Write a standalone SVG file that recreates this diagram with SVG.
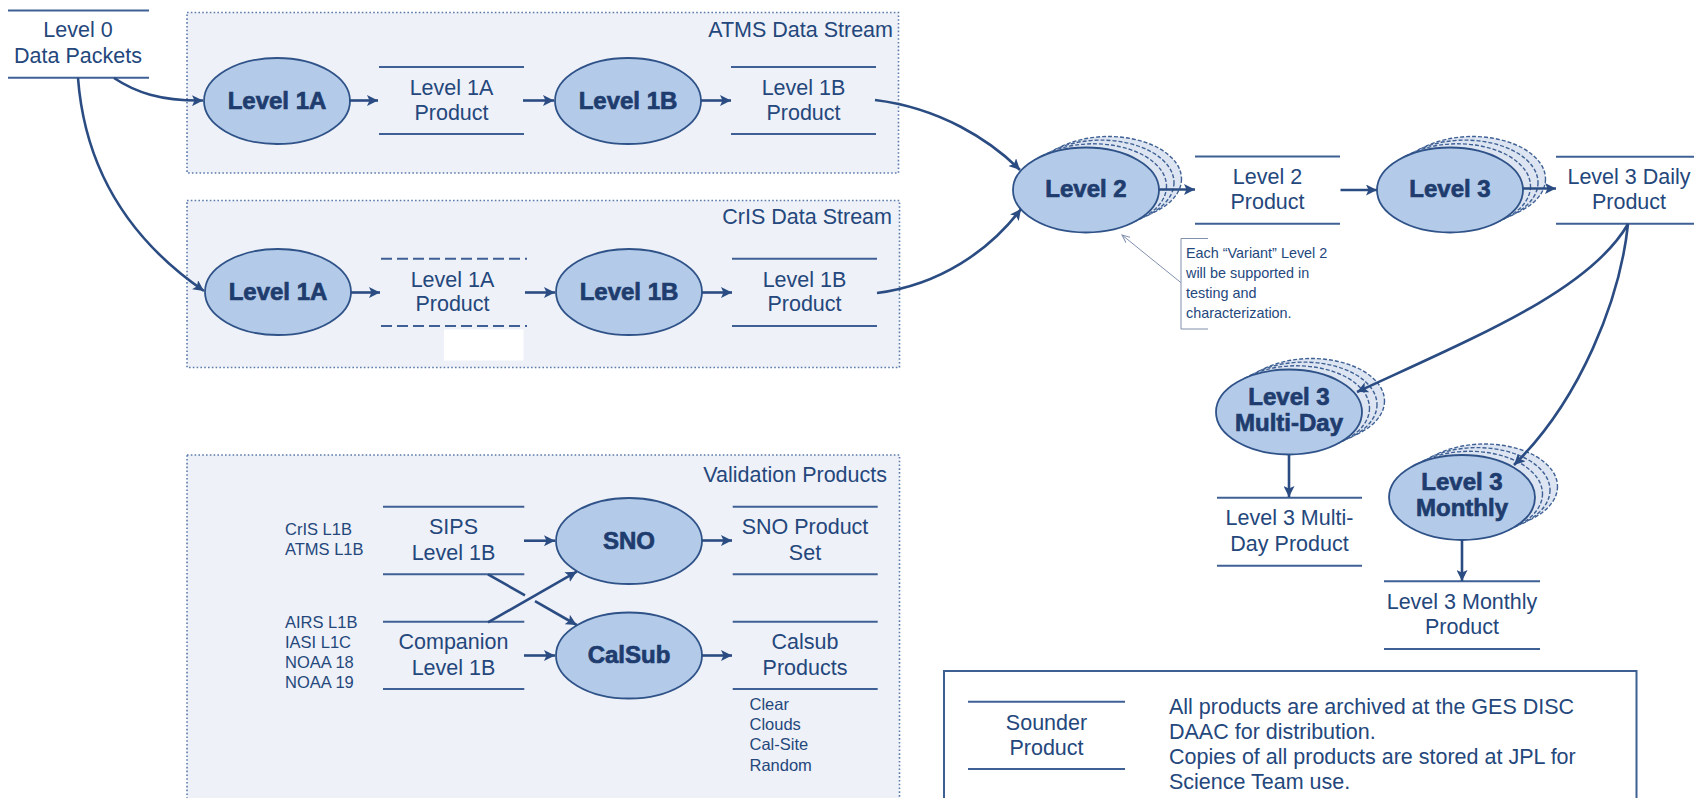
<svg xmlns="http://www.w3.org/2000/svg" width="1694" height="798" viewBox="0 0 1694 798">
  <style>
    .txt { font-family: "Liberation Sans", Arial, sans-serif; font-size: 21.5px; fill: #24477c; text-anchor: middle; }
    .lft { text-anchor: start; }
    .end { text-anchor: end; }
    .sm { font-size: 16.5px; }
    .note { font-size: 14.4px; text-anchor: start; }
    .bold { font-family: "Liberation Sans", Arial, sans-serif; font-size: 24px; font-weight: bold; fill: #1f3c6e; stroke: #1f3c6e; stroke-width: 0.7; text-anchor: middle; }
    .stream { fill: #eef1f7; stroke: #5c7bab; stroke-width: 1.6; stroke-dasharray: 1.6 2.2; }
    .pline { stroke: #3f6094; stroke-width: 2; fill: none; }
    .dash { stroke-dasharray: 11 5; }
    .proc { fill: #b3cbe9; stroke: #2f5288; stroke-width: 1.8; }
    .ghost { fill: #dce5f1; stroke: #3f6094; stroke-width: 1.4; stroke-dasharray: 4 2; }
    .arrow { stroke: #2a4c82; stroke-width: 2.6; fill: none; marker-end: url(#head); }
    .leader { stroke: #8090ad; stroke-width: 1; fill: none; marker-end: url(#thin); }
  </style>
  <defs>
    <marker id="head" markerUnits="userSpaceOnUse" markerWidth="12" markerHeight="11" refX="11" refY="5.5" orient="auto">
      <path d="M0,0 L11,5.5 L0,11 L2.5,5.5 z" fill="#2a4c82"/>
    </marker>
    <marker id="thin" markerUnits="userSpaceOnUse" markerWidth="9" markerHeight="8" refX="8" refY="4" orient="auto">
      <path d="M0,0.5 L8,4 L0,7.5" fill="none" stroke="#8090ad" stroke-width="1"/>
    </marker>
    <!-- a process with stacked variants behind it -->
    <g id="stack">
      <ellipse class="ghost" cx="22.5" cy="-11" rx="73" ry="42.5"/>
      <ellipse class="ghost" cx="15" cy="-7.4" rx="73" ry="42.5"/>
      <ellipse class="ghost" cx="7.5" cy="-3.7" rx="73" ry="42.5"/>
      <ellipse class="proc" cx="0" cy="0" rx="73" ry="42.5"/>
    </g>
  </defs>

  <!-- stream panels -->
  <g id="atms-stream">
    <rect class="stream" x="187" y="12.5" width="711.5" height="160.5"/>
    <text class="txt end" x="893" y="37">ATMS Data Stream</text>
  </g>
  <g id="cris-stream">
    <rect class="stream" x="187" y="200.5" width="712.5" height="167"/>
    <text class="txt end" x="892" y="224">CrIS Data Stream</text>
    <rect x="444" y="329.5" width="79.5" height="31" fill="#ffffff"/>
  </g>
  <g id="validation-products">
    <rect class="stream" x="187" y="455" width="712.5" height="360"/>
    <text class="txt end" x="887" y="481.5">Validation Products</text>
  </g>

  <!-- Level 0 -->
  <g id="level0-packets">
    <line class="pline" x1="8" y1="10.5" x2="149" y2="10.5"/>
    <line class="pline" x1="8" y1="77.7" x2="149" y2="77.7"/>
    <text class="txt" x="78" y="37">Level 0</text>
    <text class="txt" x="78" y="63.3">Data Packets</text>
  </g>

  <!-- ATMS row -->
  <g id="atms-l1a">
    <ellipse class="proc" cx="277" cy="101" rx="73" ry="43"/>
    <text class="bold" x="277" y="108.5">Level 1A</text>
  </g>
  <g id="atms-l1a-product">
    <line class="pline" x1="379" y1="67" x2="524" y2="67"/>
    <line class="pline" x1="379" y1="134" x2="524" y2="134"/>
    <text class="txt" x="451.5" y="95">Level 1A</text>
    <text class="txt" x="451.5" y="119.5">Product</text>
  </g>
  <g id="atms-l1b">
    <ellipse class="proc" cx="628" cy="101" rx="73" ry="43"/>
    <text class="bold" x="628" y="108.5">Level 1B</text>
  </g>
  <g id="atms-l1b-product">
    <line class="pline" x1="731" y1="67" x2="876" y2="67"/>
    <line class="pline" x1="731" y1="134" x2="876" y2="134"/>
    <text class="txt" x="803.5" y="95">Level 1B</text>
    <text class="txt" x="803.5" y="119.5">Product</text>
  </g>

  <!-- CrIS row -->
  <g id="cris-l1a">
    <ellipse class="proc" cx="278" cy="292" rx="73" ry="43"/>
    <text class="bold" x="278" y="299.5">Level 1A</text>
  </g>
  <g id="cris-l1a-product">
    <line class="pline dash" x1="381" y1="258.7" x2="527" y2="258.7"/>
    <line class="pline dash" x1="381" y1="326" x2="527" y2="326"/>
    <text class="txt" x="452.5" y="286.5">Level 1A</text>
    <text class="txt" x="452.5" y="311">Product</text>
  </g>
  <g id="cris-l1b">
    <ellipse class="proc" cx="629" cy="292" rx="73" ry="43"/>
    <text class="bold" x="629" y="299.5">Level 1B</text>
  </g>
  <g id="cris-l1b-product">
    <line class="pline" x1="732" y1="258.7" x2="877" y2="258.7"/>
    <line class="pline" x1="732" y1="326" x2="877" y2="326"/>
    <text class="txt" x="804.5" y="286.5">Level 1B</text>
    <text class="txt" x="804.5" y="311">Product</text>
  </g>

  <!-- Level 2 / Level 3 chain -->
  <g id="level2">
    <use href="#stack" x="1086" y="190"/>
    <text class="bold" x="1086" y="197">Level 2</text>
  </g>
  <g id="level2-product">
    <line class="pline" x1="1195" y1="156.5" x2="1340" y2="156.5"/>
    <line class="pline" x1="1195" y1="223.7" x2="1340" y2="223.7"/>
    <text class="txt" x="1267.5" y="183.5">Level 2</text>
    <text class="txt" x="1267.5" y="209">Product</text>
  </g>
  <g id="level3">
    <use href="#stack" x="1450" y="190"/>
    <text class="bold" x="1450" y="197">Level 3</text>
  </g>
  <g id="level3-daily-product">
    <line class="pline" x1="1556" y1="156.7" x2="1700" y2="156.7"/>
    <line class="pline" x1="1556" y1="223.7" x2="1700" y2="223.7"/>
    <text class="txt" x="1629" y="183.5">Level 3 Daily</text>
    <text class="txt" x="1629" y="209">Product</text>
  </g>
  <g id="level3-multiday">
    <use href="#stack" x="1289" y="412"/>
    <text class="bold" x="1289" y="405">Level 3</text>
    <text class="bold" x="1289" y="430.5">Multi-Day</text>
  </g>
  <g id="level3-multiday-product">
    <line class="pline" x1="1217" y1="497.7" x2="1362" y2="497.7"/>
    <line class="pline" x1="1217" y1="565.7" x2="1362" y2="565.7"/>
    <text class="txt" x="1289.5" y="525.3">Level 3 Multi-</text>
    <text class="txt" x="1289.5" y="550.5">Day Product</text>
  </g>
  <g id="level3-monthly">
    <use href="#stack" x="1462" y="497.5"/>
    <text class="bold" x="1462" y="490">Level 3</text>
    <text class="bold" x="1462" y="516">Monthly</text>
  </g>
  <g id="level3-monthly-product">
    <line class="pline" x1="1384" y1="581.3" x2="1540" y2="581.3"/>
    <line class="pline" x1="1384" y1="649" x2="1540" y2="649"/>
    <text class="txt" x="1462" y="608.5">Level 3 Monthly</text>
    <text class="txt" x="1462" y="634.3">Product</text>
  </g>

  <!-- variant note -->
  <g id="variant-note">
    <path d="M1208,238.5 L1181,238.5 L1181,329 L1208,329" fill="none" stroke="#8090ad" stroke-width="1"/>
    <text class="txt note" x="1186" y="258.3">Each “Variant” Level 2</text>
    <text class="txt note" x="1186" y="278.3">will be supported in</text>
    <text class="txt note" x="1186" y="298.3">testing and</text>
    <text class="txt note" x="1186" y="318.3">characterization.</text>
  </g>

  <!-- validation content -->
  <g id="sips-sources">
    <text class="txt sm lft" x="285" y="535">CrIS L1B</text>
    <text class="txt sm lft" x="285" y="555">ATMS L1B</text>
  </g>
  <g id="companion-sources">
    <text class="txt sm lft" x="285" y="628.3">AIRS L1B</text>
    <text class="txt sm lft" x="285" y="648.3">IASI L1C</text>
    <text class="txt sm lft" x="285" y="668.3">NOAA 18</text>
    <text class="txt sm lft" x="285" y="688.3">NOAA 19</text>
  </g>
  <g id="sips-l1b">
    <line class="pline" x1="383" y1="506.7" x2="524.3" y2="506.7"/>
    <line class="pline" x1="383" y1="574.3" x2="524.3" y2="574.3"/>
    <text class="txt" x="453.5" y="534.3">SIPS</text>
    <text class="txt" x="453.5" y="560">Level 1B</text>
  </g>
  <g id="companion-l1b">
    <line class="pline" x1="383" y1="621.7" x2="524.3" y2="621.7"/>
    <line class="pline" x1="383" y1="689" x2="524.3" y2="689"/>
    <text class="txt" x="453.5" y="649.3">Companion</text>
    <text class="txt" x="453.5" y="675">Level 1B</text>
  </g>
  <g id="sno">
    <ellipse class="proc" cx="629" cy="541" rx="73" ry="43"/>
    <text class="bold" x="629" y="548.5">SNO</text>
  </g>
  <g id="calsub">
    <ellipse class="proc" cx="629" cy="655.5" rx="73" ry="43"/>
    <text class="bold" x="629" y="663">CalSub</text>
  </g>
  <g id="sno-product-set">
    <line class="pline" x1="732.7" y1="506.7" x2="877.7" y2="506.7"/>
    <line class="pline" x1="732.7" y1="574.3" x2="877.7" y2="574.3"/>
    <text class="txt" x="805" y="534.3">SNO Product</text>
    <text class="txt" x="805" y="560">Set</text>
  </g>
  <g id="calsub-products">
    <line class="pline" x1="732.7" y1="621.7" x2="877.7" y2="621.7"/>
    <line class="pline" x1="732.7" y1="689" x2="877.7" y2="689"/>
    <text class="txt" x="805" y="649.3">Calsub</text>
    <text class="txt" x="805" y="674.5">Products</text>
    <text class="txt sm lft" x="749.5" y="710">Clear</text>
    <text class="txt sm lft" x="749.5" y="730">Clouds</text>
    <text class="txt sm lft" x="749.5" y="750">Cal-Site</text>
    <text class="txt sm lft" x="749.5" y="770.5">Random</text>
  </g>

  <!-- legend -->
  <g id="legend">
    <rect x="944" y="671" width="692.5" height="140" fill="#ffffff" stroke="#3d5f91" stroke-width="2"/>
    <line class="pline" x1="968" y1="701.7" x2="1125" y2="701.7"/>
    <line class="pline" x1="968" y1="769" x2="1125" y2="769"/>
    <text class="txt" x="1046.5" y="730">Sounder</text>
    <text class="txt" x="1046.5" y="755.3">Product</text>
    <text class="txt lft" x="1169" y="714">All products are archived at the GES DISC</text>
    <text class="txt lft" x="1169" y="739.3">DAAC for distribution.</text>
    <text class="txt lft" x="1169" y="763.5">Copies of all products are stored at JPL for</text>
    <text class="txt lft" x="1169" y="789">Science Team use.</text>
  </g>

  <!-- connectors -->
  <g id="connectors">
    <path class="arrow" d="M114,78 C135,92 160,101 203,100.5"/>
    <path class="arrow" d="M78,78 C85,170 130,240 204,291"/>
    <path class="arrow" d="M349,100.5 L378,100.5"/>
    <path class="arrow" d="M523,100.5 L554,100.5"/>
    <path class="arrow" d="M701,100.5 L731,100.5"/>
    <path class="arrow" d="M351,292.5 L380,292.5"/>
    <path class="arrow" d="M525,292.5 L555,292.5"/>
    <path class="arrow" d="M702,292.5 L732,292.5"/>
    <path class="arrow" d="M875,100 C940,108 990,140 1020,170"/>
    <path class="arrow" d="M877,293 C940,285 990,250 1021,209"/>
    <path class="arrow" d="M1159,189.5 L1195,189.5"/>
    <path class="arrow" d="M1340.5,190 L1377,190"/>
    <path class="arrow" d="M1523,188.5 L1556,188.5"/>
    <path class="arrow" d="M1628,224 C1590,290 1480,335 1357,392"/>
    <path class="arrow" d="M1628,224 C1620,300 1580,400 1514,465"/>
    <path class="arrow" d="M1289,455 L1289,497"/>
    <path class="arrow" d="M1462,540 L1462,581"/>
    <path class="leader" d="M1181,282.7 L1122,235"/>
    <path class="arrow" d="M524,540.7 L555,540.7"/>
    <path class="arrow" d="M524,655.5 L555,655.5"/>
    <path class="arrow" d="M702,540.5 L732,540.5"/>
    <path class="arrow" d="M702,655.5 L732,655.5"/>
    <path class="arrow" d="M488,622.3 L576.7,571.7"/>
    <path class="arrow" style="marker-end:none" d="M488,574.3 L525,595.4"/>
    <path class="arrow" d="M535,601.2 L576.7,625"/>
  </g>
</svg>
